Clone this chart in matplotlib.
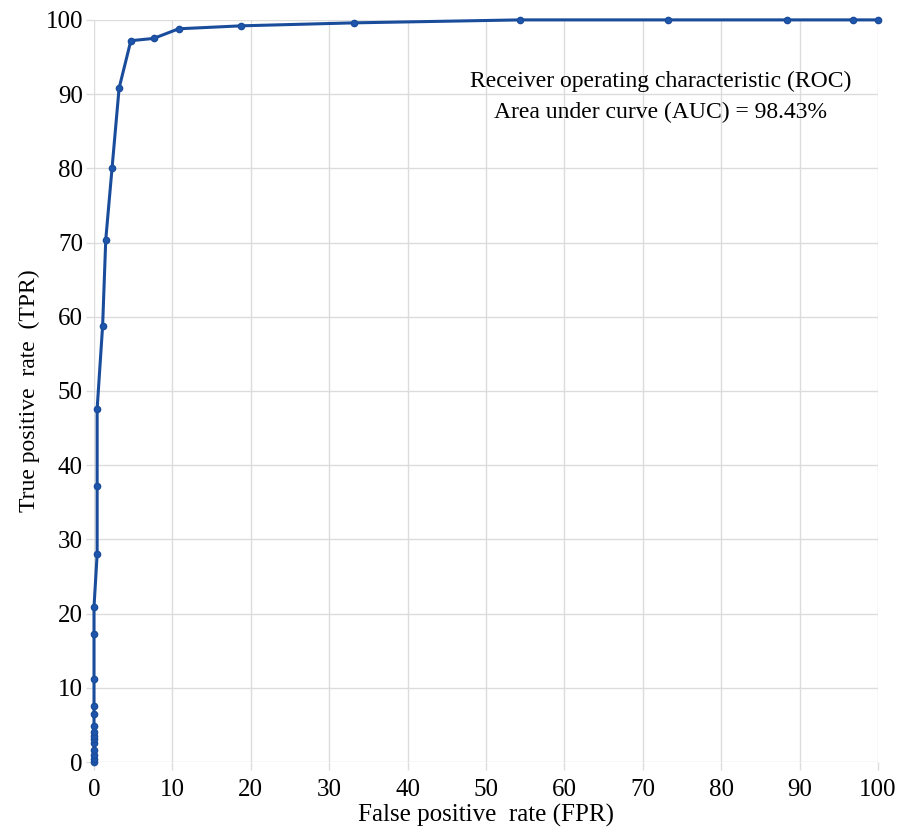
import matplotlib.pyplot as plt

# ROC points (percent)
fpr = [0, 0, 0, 0, 0, 0, 0, 0, 0, 0, 0, 0, 0, 0,
       0.4, 0.4, 0.4, 1.1, 1.5, 2.3, 3.2, 4.7, 7.6, 10.8, 18.8, 33.2,
       54.4, 73.2, 88.4, 96.8, 100]
tpr = [0, 0.4, 0.9, 1.6, 2.6, 3.1, 3.5, 4.0, 4.9, 6.5, 7.5, 11.2, 17.3, 20.9,
       28.0, 37.2, 47.6, 58.8, 70.4, 80.0, 90.8, 97.2, 97.5, 98.8, 99.2, 99.6,
       100, 100, 100, 100, 100]
ticks = list(range(0, 101, 10))

plt.rcParams["font.family"] = ["Liberation Serif", "DejaVu Serif"]

fig = plt.figure(figsize=(8.97, 8.32), dpi=100)
ax = fig.add_axes([0.1048, 0.0841, 0.874, 0.892])

ax.plot(fpr, tpr, color="#1a4c9c", lw=2.2, marker="o", ms=4.5,
        mfc="#1f56ad", mec="#1a4c9c", zorder=3, clip_on=False)

ax.set_xlim(0, 100)
ax.set_ylim(0, 100)
ax.set_xticks(ticks)
ax.set_yticks(ticks)
ax.grid(True, color="#dcdcdc", lw=1)
ax.set_axisbelow(True)
for s in ax.spines.values():
    s.set_visible(False)
ax.tick_params(axis="both", colors="#dcdcdc", length=6, width=1,
               labelcolor="black", labelsize=18)
ax.tick_params(axis="x", pad=6)
ax.tick_params(axis="y", pad=2)

ax.set_xlabel("False positive  rate (FPR)", fontsize=18, labelpad=2)
ax.set_ylabel("True positive  rate  (TPR)", fontsize=17, labelpad=4)

ax.text(72.3, 89.6, "Receiver operating characteristic (ROC)\nArea under curve (AUC) = 98.43%",
        ha="center", va="center", fontsize=17, linespacing=1.65)

fig.savefig("out.png", dpi=100)
